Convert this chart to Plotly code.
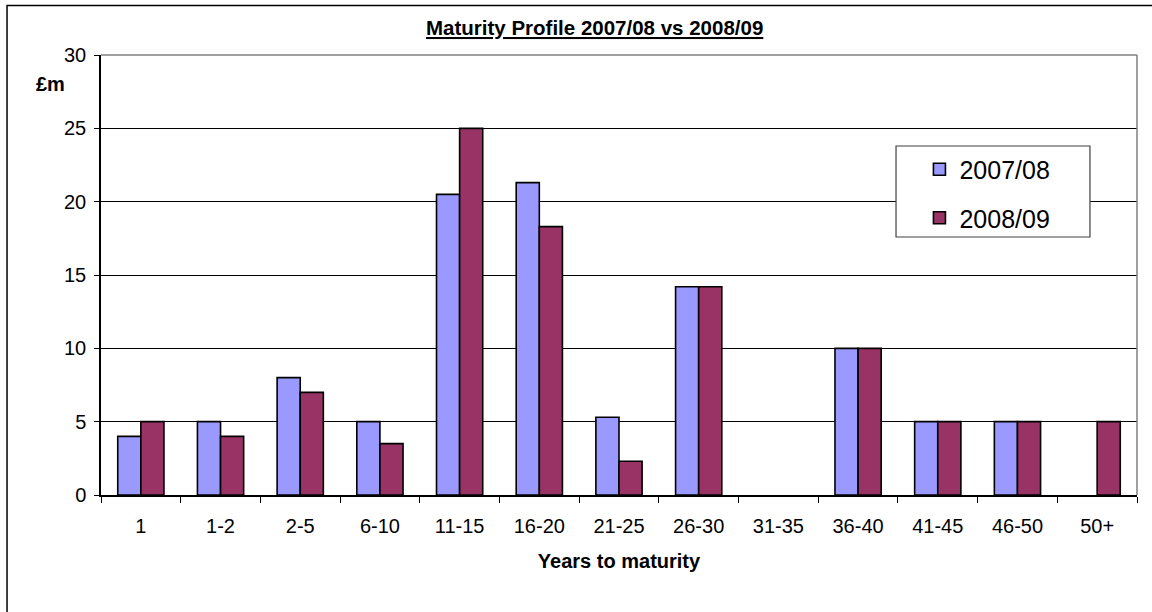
import plotly.graph_objects as go

categories = ["1", "1-2", "2-5", "6-10", "11-15", "16-20", "21-25", "26-30",
              "31-35", "36-40", "41-45", "46-50", "50+"]
v_2007_08 = [4, 5, 8, 5, 20.5, 21.3, 5.3, 14.2, 0, 10, 5, 5, 0]
v_2008_09 = [5, 4, 7, 3.5, 25, 18.3, 2.3, 14.2, 0, 10, 5, 5, 5]
series_names = ["2007/08", "2008/09"]
y_ticks = [0, 5, 10, 15, 20, 25, 30]

FONT = "Liberation Sans, Arial, sans-serif"


def outline_widths(vals):
    # no outline on empty (zero) bars, as in the original
    return [1.6 if v else 0 for v in vals]


fig = go.Figure()
fig.add_trace(go.Bar(x=categories, y=v_2007_08, name=series_names[0], legendgroup="a",
                     marker=dict(color="#9999FF",
                                 line=dict(color="black", width=outline_widths(v_2007_08)))))
fig.add_trace(go.Bar(x=categories, y=v_2008_09, name=series_names[1], legendgroup="b",
                     marker=dict(color="#993366",
                                 line=dict(color="black", width=outline_widths(v_2008_09)))))

fig.update_layout(
    width=1152, height=612,
    margin=dict(l=101, r=15, t=55, b=117),
    paper_bgcolor="white", plot_bgcolor="white",
    barmode="group", bargap=0.42, bargroupgap=0,
    font=dict(family=FONT, color="black", size=20),
    showlegend=True,
    legend=dict(x=0.79, y=0.792, xanchor="left", yanchor="top",
                bgcolor="rgba(0,0,0,0)", borderwidth=0,
                font=dict(size=25, family=FONT, color="black"),
                traceorder="grouped", tracegroupgap=13),
    xaxis=dict(type="category", showline=True, linecolor="black", linewidth=1.5,
               ticks="outside", tickson="boundaries", ticklen=6, tickcolor="black",
               tickfont=dict(size=20), showgrid=False, ticklabelstandoff=12,
               title=dict(text="<b>Years to maturity</b>", font=dict(size=20), standoff=18)),
    yaxis=dict(range=[0, 30], tickvals=y_ticks, showline=True, linecolor="black", linewidth=1.5,
               ticks="outside", ticklen=5, tickcolor="black", tickfont=dict(size=20),
               showgrid=True, gridcolor="black", gridwidth=1, zeroline=False,
               ticklabelstandoff=4),
    shapes=[
        # outer chart border
        dict(type="rect", xref="paper", yref="paper", x0=-0.0907, x1=1.2, y0=-0.6, y1=1.1125,
             line=dict(color="black", width=1.5), fillcolor="rgba(0,0,0,0)", layer="below"),
        # plot area top & right border (gray)
        dict(type="line", xref="paper", yref="paper", x0=0, x1=1, y0=1, y1=1,
             line=dict(color="#808080", width=1.5), layer="above"),
        dict(type="line", xref="paper", yref="paper", x0=1, x1=1, y0=0, y1=1,
             line=dict(color="#808080", width=1.5), layer="above"),
        # legend box
        dict(type="rect", xref="paper", yref="paper", x0=0.7674, x1=0.9546, y0=0.5864, y1=0.7932,
             line=dict(color="#404040", width=1.2), fillcolor="white", layer="above"),
    ],
    annotations=[
        dict(text="<b><u>Maturity Profile 2007/08 vs 2008/09</u></b>", xref="paper", yref="paper",
             x=0.4768, y=1.0636, xanchor="center", yanchor="middle", showarrow=False,
             font=dict(size=20.5)),
        dict(text="<b>£m</b>", xref="paper", yref="paper", x=-0.0483, y=0.934,
             xanchor="center", yanchor="middle", showarrow=False, font=dict(size=20)),
    ],
)

fig.write_html("out.html", config={"displayModeBar": False},
               post_script="document.body.style.margin='0';")
